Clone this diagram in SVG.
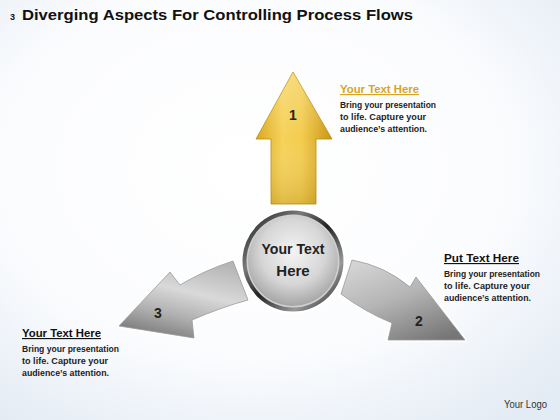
<svg xmlns="http://www.w3.org/2000/svg" width="560" height="420" viewBox="0 0 560 420">
<defs>
<radialGradient id="bg" cx="0.45" cy="0.4" r="0.75">
<stop offset="0" stop-color="#ffffff"/>
<stop offset="0.6" stop-color="#fbfcfe"/>
<stop offset="1" stop-color="#e3ebf4"/>
</radialGradient>
<linearGradient id="gold" x1="0" y1="0" x2="1" y2="0">
<stop offset="0" stop-color="#d9a81c"/>
<stop offset="0.35" stop-color="#f6d25a"/>
<stop offset="0.6" stop-color="#f3cc4e"/>
<stop offset="1" stop-color="#c99611"/>
</linearGradient>
<linearGradient id="goldV" x1="0" y1="0" x2="0" y2="1">
<stop offset="0" stop-color="#ffffff" stop-opacity="0.25"/>
<stop offset="0.5" stop-color="#ffffff" stop-opacity="0"/>
<stop offset="1" stop-color="#9a6f00" stop-opacity="0.25"/>
</linearGradient>
<linearGradient id="grayL" x1="0.7" y1="0" x2="0.3" y2="1">
<stop offset="0" stop-color="#b5b5b5"/>
<stop offset="0.4" stop-color="#d9d9d9"/>
<stop offset="0.7" stop-color="#b0b0b0"/>
<stop offset="1" stop-color="#7a7a7a"/>
</linearGradient>
<linearGradient id="grayR" x1="0.2" y1="0" x2="0.8" y2="1">
<stop offset="0" stop-color="#d4d4d4"/>
<stop offset="0.45" stop-color="#b5b5b5"/>
<stop offset="1" stop-color="#767676"/>
</linearGradient>
<radialGradient id="disc" cx="0.5" cy="0.4" r="0.6">
<stop offset="0" stop-color="#f4f4f4"/>
<stop offset="0.6" stop-color="#d6d6d6"/>
<stop offset="1" stop-color="#a5a5a5"/>
</radialGradient>
<linearGradient id="ring" x1="0" y1="0" x2="1" y2="1">
<stop offset="0" stop-color="#111"/>
<stop offset="0.3" stop-color="#7a7a7a"/>
<stop offset="0.5" stop-color="#222"/>
<stop offset="0.75" stop-color="#999"/>
<stop offset="1" stop-color="#111"/>
</linearGradient>
</defs>
<style>
.title{font-family:"Liberation Sans",Arial,sans-serif;font-weight:bold;fill:#111}
.head{font-family:"Liberation Sans",Arial,sans-serif;font-weight:bold;font-size:11.5px;text-decoration:underline}
.body{font-family:"Liberation Sans",Arial,sans-serif;font-weight:bold;font-size:9px;fill:#222}
.num{font-family:"Liberation Sans",Arial,sans-serif;font-weight:bold;font-size:14px;fill:#222;text-anchor:middle}
.ctr{font-family:"Liberation Sans",Arial,sans-serif;font-weight:bold;font-size:15px;fill:#222;text-anchor:middle}
.halo{fill:none;stroke:#ffffff;stroke-width:4;stroke-linejoin:round}
.edge{stroke:#9a9a9a;stroke-width:0.8;stroke-linejoin:round}
</style>
<rect width="560" height="420" fill="url(#bg)"/>
<g id="title">
<text class="title" x="10" y="20" font-size="9">3</text>
<text class="title" x="22" y="20" font-size="15.5" textLength="391" lengthAdjust="spacingAndGlyphs">Diverging Aspects For Controlling Process Flows</text>
</g>
<g id="connectors">
<g id="arrow1">
<path class="halo" d="M293,72 L332,139 L316,139 L316,204 L271,204 L271,139 L256,139 Z"/>
<path d="M293,72 L332,139 L316,139 L316,204 L271,204 L271,139 L256,139 Z" fill="url(#gold)" stroke="#b88d12" stroke-width="0.8" stroke-linejoin="round"/>
<path d="M293,72 L332,139 L316,139 L316,204 L271,204 L271,139 L256,139 Z" fill="url(#goldV)"/>
<text class="num" x="293" y="120">1</text>
</g>
<g id="arrow3">
<path class="halo" d="M119,326 L170,272 L180,285 Q205,270 233,261 L248,300 Q222,307 192,320 L194,338 Z"/>
<path class="edge" d="M119,326 L170,272 L180,285 Q205,270 233,261 L248,300 Q222,307 192,320 L194,338 Z" fill="url(#grayL)"/>
<text class="num" x="158" y="318">3</text>
</g>
<g id="arrow2">
<path class="halo" d="M352,260 Q385,266 410,287 L416,277 L465,340 L388,340 L392,323 Q365,312 341,294 Z"/>
<path class="edge" d="M352,260 Q385,266 410,287 L416,277 L465,340 L388,340 L392,323 Q365,312 341,294 Z" fill="url(#grayR)"/>
<text class="num" x="419" y="326">2</text>
</g>
</g>
<g id="center">
<circle cx="293" cy="261" r="53" fill="#ffffff" opacity="0.9"/>
<circle cx="293" cy="261" r="50.5" fill="url(#ring)"/>
<circle cx="293" cy="261" r="46.5" fill="#d0d0d0"/>
<circle cx="293" cy="261" r="45" fill="url(#disc)"/>
<text class="ctr" x="293" y="254" textLength="63" lengthAdjust="spacingAndGlyphs">Your Text</text>
<text class="ctr" x="293" y="276">Here</text>
</g>
<g id="label1">
<text class="head" x="340" y="93" fill="#d9a520" textLength="79" lengthAdjust="spacingAndGlyphs">Your Text Here</text>
<text class="body" x="340" y="108" textLength="96" lengthAdjust="spacingAndGlyphs">Bring your presentation</text>
<text class="body" x="340" y="120" textLength="86" lengthAdjust="spacingAndGlyphs">to life. Capture your</text>
<text class="body" x="340" y="132" textLength="87" lengthAdjust="spacingAndGlyphs">audience’s attention.</text>
</g>
<g id="label2">
<text class="head" x="444" y="262" fill="#111" textLength="75" lengthAdjust="spacingAndGlyphs">Put Text Here</text>
<text class="body" x="444" y="277" textLength="96" lengthAdjust="spacingAndGlyphs">Bring your presentation</text>
<text class="body" x="444" y="289" textLength="86" lengthAdjust="spacingAndGlyphs">to life. Capture your</text>
<text class="body" x="444" y="301" textLength="87" lengthAdjust="spacingAndGlyphs">audience’s attention.</text>
</g>
<g id="label3">
<text class="head" x="22" y="337" fill="#111" textLength="79" lengthAdjust="spacingAndGlyphs">Your Text Here</text>
<text class="body" x="22" y="352" textLength="97" lengthAdjust="spacingAndGlyphs">Bring your presentation</text>
<text class="body" x="22" y="364" textLength="86" lengthAdjust="spacingAndGlyphs">to life. Capture your</text>
<text class="body" x="22" y="376" textLength="87" lengthAdjust="spacingAndGlyphs">audience’s attention.</text>
</g>
<g id="logo">
<text x="504" y="408" font-family="Liberation Sans,Arial,sans-serif" font-size="10.5" fill="#333" textLength="43" lengthAdjust="spacingAndGlyphs">Your Logo</text>
</g>
</svg>
